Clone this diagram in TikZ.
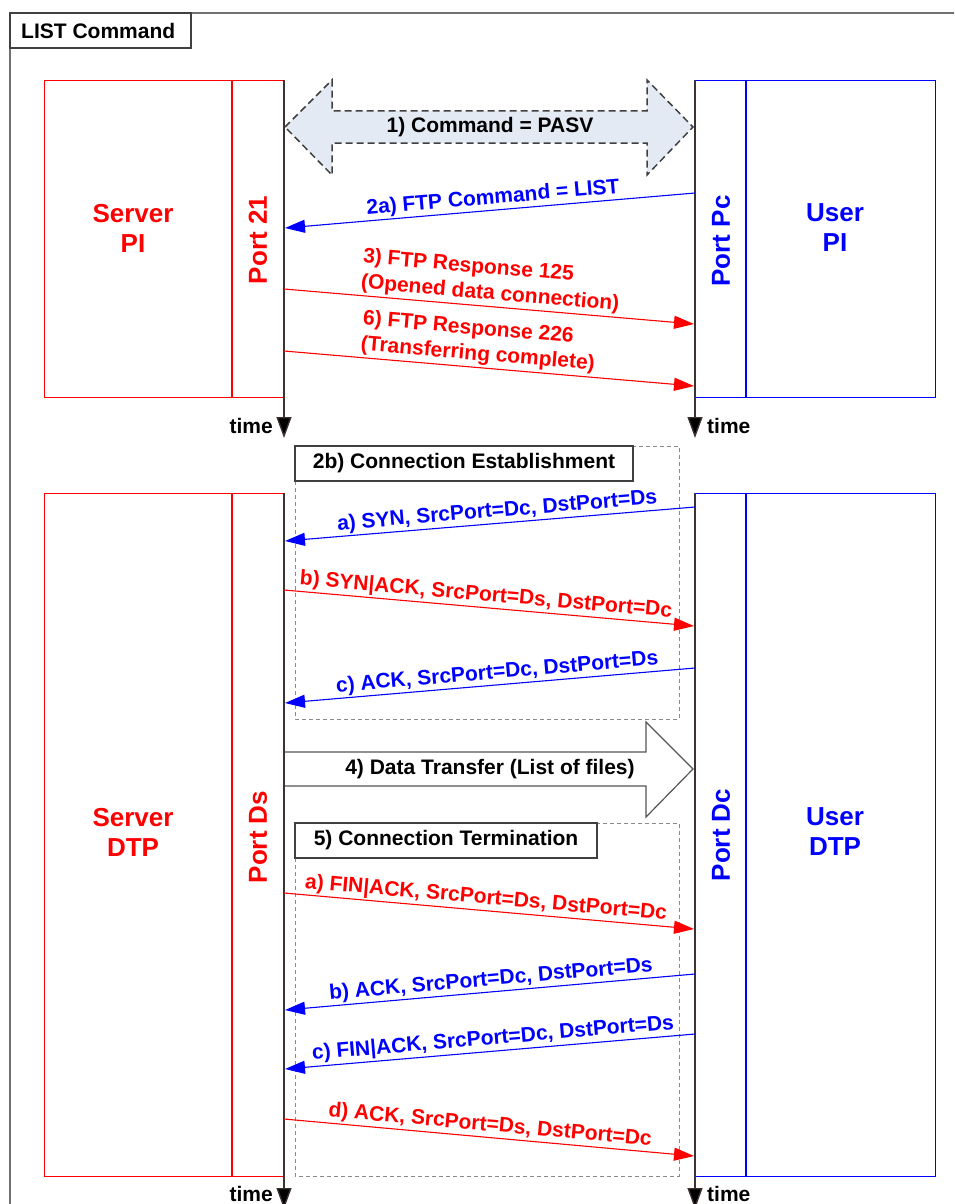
\documentclass[tikz,border=0pt]{standalone}
\usepackage{fontspec}
\setmainfont{Liberation Sans}
\usetikzlibrary{arrows.meta}
\definecolor{lifec}{HTML}{3C3232}
\definecolor{framec}{HTML}{707070}
\definecolor{pasvfill}{HTML}{E4EAF4}
\definecolor{dashc}{HTML}{404040}
\definecolor{xferc}{HTML}{555555}
\definecolor{groupc}{HTML}{8A8A8A}
\tikzset{
  lbl/.style={font=\fontsize{21}{27}\selectfont\bfseries, inner sep=0pt},
  biglbl/.style={font=\fontsize{26}{30}\selectfont\bfseries, align=center, inner sep=0pt},
  msg/.style={line width=1.1pt, -{Triangle[length=20pt,width=13pt]}},
  rmsg/.style={msg, red},
  bmsg/.style={msg, blue},
  msglbl/.style={lbl, above=1.5pt, sloped},
  twolbl/.style={msglbl, align=left, font=\fontsize{21}{25.5}\selectfont\bfseries, above=0.8pt},
  lifeline/.style={draw=lifec, line width=1.4pt, -{Triangle[length=21pt,width=15pt,fill=black]}},
  redbox/.style={draw=red, line width=1.2pt, inner sep=0pt, anchor=north west},
  bluebox/.style={draw=blue, line width=1.2pt, inner sep=0pt, anchor=north west},
  group/.style={draw=groupc, line width=0.8pt, dash pattern=on 4pt off 3pt},
  titlebox/.style={draw=dashc, line width=1.5pt, fill=white},
}
\begin{document}
\begin{tikzpicture}[x=1pt,y=-1pt]
\useasboundingbox (0,0) rectangle (954,1204);
\clip (0,0) rectangle (954,1204);
\fill[white] (0,0) rectangle (954,1204);
% outer frame
\draw[framec, line width=2pt] (10,1210) -- (10,13) -- (960,13);
\draw[titlebox] (10,13) rectangle (191,48);
\node[lbl, anchor=west] (title) at (21,30.5) {LIST Command};

% ---------- PI section ----------
\node[redbox, minimum width=240, minimum height=317] (spi) at (44,80) {};
\draw[red, line width=1.2pt] (232,80) -- (232,397);
\node[bluebox, minimum width=240, minimum height=317] (upi) at (695,80) {};
\draw[blue, line width=1.2pt] (746,80) -- (746,397);
\node[biglbl, red] (spiT) at (133,228) {Server\\PI};
\node[biglbl, red, rotate=90] (p21) at (258,240) {Port 21};
\node[biglbl, blue] (upiT) at (835,228) {User\\PI};
\node[biglbl, blue, rotate=90] (ppc) at (721,241) {Port Pc};

% PASV double arrow
\draw[dashc, line width=1.5pt, dash pattern=on 7pt off 4pt, fill=pasvfill]
  (285,127) -- (332,80) -- (332,111) -- (647,111) -- (647,80) -- (693,127)
  -- (647,175) -- (647,143) -- (332,143) -- (332,175) -- cycle;
\node[lbl] (pasv) at (490,127) {1) Command = PASV};

% lifelines (top)
\coordinate (lt1) at (284,80); \coordinate (lb1) at (284,438);
\coordinate (rt1) at (695,80); \coordinate (rb1) at (695,438);
\draw[lifeline] (lt1) -- (lb1);
\draw[lifeline] (rt1) -- (rb1);
\node[lbl, anchor=east] (time1) at (273,426) {time};
\node[lbl, anchor=west] (time2) at (707,426) {time};

% messages (top)
\coordinate (m2s) at (695,193); \coordinate (m2e) at (285,228);
\draw[bmsg] (m2s) -- (m2e) node[msglbl, pos=0.49] (m2l) {2a) FTP Command = LIST};
\coordinate (m3s) at (284,289); \coordinate (m3e) at (694,324);
\draw[rmsg] (m3s) -- (m3e) node[twolbl, pos=0.5] (m3l) {3) FTP Response 125\\(Opened data connection)};
\coordinate (m6s) at (284,351); \coordinate (m6e) at (694,386);
\draw[rmsg] (m6s) -- (m6e) node[twolbl, pos=0.47] (m6l) {6) FTP Response 226\\(Transferring complete)};

% ---------- DTP section ----------
\node[redbox, minimum width=240, minimum height=683] (sdtp) at (44,493) {};
\draw[red, line width=1.2pt] (232,493) -- (232,1176);
\node[bluebox, minimum width=240, minimum height=683] (udtp) at (695,493) {};
\draw[blue, line width=1.2pt] (746,493) -- (746,1176);
\node[biglbl, red] (sdtpT) at (133,832) {Server\\DTP};
\node[biglbl, red, rotate=90] (pds) at (258,837) {Port Ds};
\node[biglbl, blue] (udtpT) at (835,832) {User\\DTP};
\node[biglbl, blue, rotate=90] (pdc) at (721,835) {Port Dc};

% groups
\draw[group] (295,446) rectangle (679,719);
\draw[titlebox] (295,446) rectangle (633,481);
\node[lbl] (estab) at (464,463.5) {2b) Connection Establishment};
\draw[group] (295,823) rectangle (679,1176);
\draw[titlebox] (295,823) rectangle (597,858);
\node[lbl] (term) at (446,840.5) {5) Connection Termination};

% data transfer arrow
\draw[xferc, line width=1.2pt, fill=white]
  (284,752) -- (646,752) -- (646,722) -- (693,769) -- (646,817) -- (646,786) -- (284,786);
\node[lbl] (xfer) at (490,769) {4) Data Transfer (List of files)};

% lifelines (bottom)
\coordinate (lt2) at (284,493); \coordinate (lb2) at (284,1209);
\coordinate (rt2) at (695,493); \coordinate (rb2) at (695,1209);
\draw[lifeline] (lt2) -- (lb2);
\draw[lifeline] (rt2) -- (rb2);
\node[lbl, anchor=east] (time3) at (273,1193.5) {time};
\node[lbl, anchor=west] (time4) at (707,1193.5) {time};

% establishment messages
\coordinate (eas) at (695,507); \coordinate (eae) at (285,541);
\draw[bmsg] (eas) -- (eae) node[msglbl, pos=0.48] (eal) {a) SYN, SrcPort=Dc, DstPort=Ds};
\coordinate (ebs) at (284,590); \coordinate (ebe) at (694,626);
\draw[rmsg] (ebs) -- (ebe) node[msglbl, pos=0.49] (ebl) {b) SYN|ACK, SrcPort=Ds, DstPort=Dc};
\coordinate (ecs) at (695,668); \coordinate (ece) at (285,703);
\draw[bmsg] (ecs) -- (ece) node[msglbl, pos=0.48] (ecl) {c) ACK, SrcPort=Dc, DstPort=Ds};

% termination messages
\coordinate (tas) at (284,893); \coordinate (tae) at (694,929);
\draw[rmsg] (tas) -- (tae) node[msglbl, pos=0.49] (tal) {a) FIN|ACK, SrcPort=Ds, DstPort=Dc};
\coordinate (tbs) at (695,974); \coordinate (tbe) at (285,1010);
\draw[bmsg] (tbs) -- (tbe) node[msglbl, pos=0.495] (tbl) {b) ACK, SrcPort=Dc, DstPort=Ds};
\coordinate (tcs) at (695,1034); \coordinate (tce) at (285,1069);
\draw[bmsg] (tcs) -- (tce) node[msglbl, pos=0.49] (tcl) {c) FIN|ACK, SrcPort=Dc, DstPort=Ds};
\coordinate (tds) at (284,1119); \coordinate (tde) at (694,1156);
\draw[rmsg] (tds) -- (tde) node[msglbl, pos=0.5] (tdl) {d) ACK, SrcPort=Ds, DstPort=Dc};
\end{tikzpicture}
\end{document}
